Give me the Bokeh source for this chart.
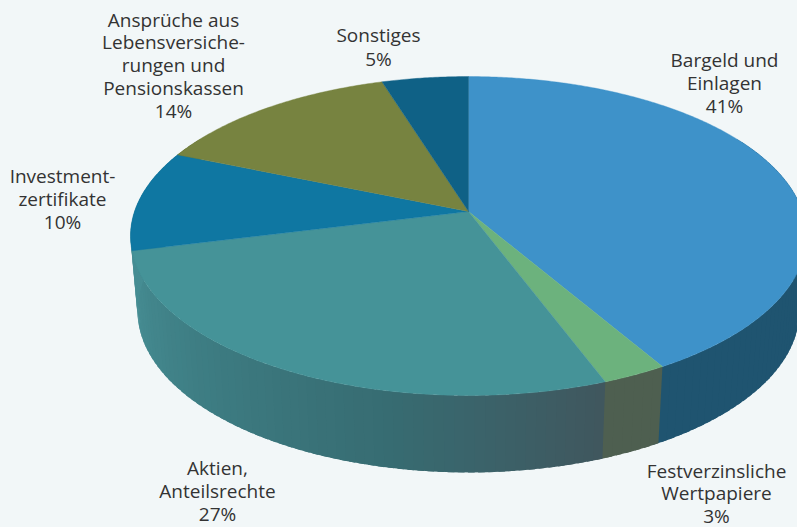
import math
from bokeh.plotting import figure
from bokeh.models import Range1d
from bokeh.core.properties import value
from bokeh.embed import file_html
from bokeh.resources import INLINE

# data
categories = ["Bargeld und Einlagen", "Festverzinsliche Wertpapiere", "Aktien, Anteilsrechte",
              "Investmentzertifikate", "Ansprüche aus Lebensversicherungen und Pensionskassen", "Sonstiges"]
shares = [41.6, 2.7, 26.8, 10.2, 13.9, 4.8]
top_colors = ["#3e92c9", "#6cb27d", "#459398", "#0f77a2", "#778340", "#0f6186"]
side_stops = [["#1f5470", "#1f5470"], ["#4e5f50", "#4e5f50"],
              ["#40565e", "#376c72", "#3d7c82", "#468d93"],
              ["#468d93", "#468d93"], ["#5a6330", "#5a6330"], ["#0c4a66", "#0c4a66"]]
label_lines = [["Bargeld und", "Einlagen", "41%"],
               ["Festverzinsliche", "Wertpapiere", "3%"],
               ["Aktien,", "Anteilsrechte", "27%"],
               ["Investment-", "zertifikate", "10%"],
               ["Ansprüche aus", "Lebensversiche-", "rungen und", "Pensionskassen", "14%"],
               ["Sonstiges", "5%"]]

# layout
label_x = [724, 716, 217, 62, 173, 378]
label_y = [59, 470, 467, 175, 19, 34]
line_step = [23, 22.5, 23, 23, 22.8, 24]
CX, AY = 468, 211
K, A, B = 0.1536, 155.7, 334
BOT_SX, BOT_SY, EY, BOT_EY = 331 / 338, 162 / 160, 235, 310
BG = "#f2f7f8"


def top_pt(deg):
    t = math.radians(deg)
    x, y = math.sin(t), math.cos(t)
    d = 1 + K * y
    return CX + B * x / d, AY - A * y / d


def bot_pt(deg):
    X, Y = top_pt(deg)
    return CX + BOT_SX * (X - CX), BOT_EY + BOT_SY * (Y - EY)


def lerp_color(stops, f):
    n = len(stops) - 1
    f = min(max(f, 0), 1)
    i = min(int(f * n), n - 1)
    g = f * n - i
    a = [int(stops[i][j:j + 2], 16) for j in (1, 3, 5)]
    b = [int(stops[i + 1][j:j + 2], 16) for j in (1, 3, 5)]
    return "#%02x%02x%02x" % tuple(round(u + (v - u) * g) for u, v in zip(a, b))


p = figure(width=797, height=527, output_backend="svg", toolbar_location=None,
           x_range=Range1d(0, 797), y_range=Range1d(527, 0), min_border=0,
           background_fill_color=BG, border_fill_color=BG, outline_line_color=None)
p.axis.visible = False
p.grid.visible = False

total = sum(shares)
start = 0.0
quads = []
for sh, stops in zip(shares, side_stops):
    end = start + 360 * sh / total
    a0, a1 = max(start, 60), min(end, 300)
    if a1 > a0:
        n = max(1, int((a1 - a0) / 1.5))
        for i in range(n):
            u0, u1 = a0 + (a1 - a0) * i / n, a0 + (a1 - a0) * (i + 1) / n
            quads.append((u0, u1, lerp_color(stops, ((u0 + u1) / 2 - start) / (end - start))))
    start = end

# sides, drawn with overlap so that no seams show
for i, (u0, u1, c) in enumerate(quads):
    over = u1 + 1.0 if i < len(quads) - 1 else u1
    t0, t1, b0, b1 = top_pt(u0), top_pt(over), bot_pt(u0), bot_pt(over)
    p.patch([t0[0], t1[0], b1[0], b0[0]], [t0[1], t1[1], b1[1], b0[1]],
            fill_color=c, line_color=None)

# top
start = 0.0
for sh, col in zip(shares, top_colors):
    end = start + 360 * sh / total
    n = max(2, int((end - start) / 0.5))
    pts = [top_pt(start + (end - start) * i / n) for i in range(n + 1)]
    p.patch([CX] + [q[0] for q in pts], [AY] + [q[1] for q in pts],
            fill_color=col, line_color=col, line_width=0.4)
    start = end

# labels
for lines, x, y, st in zip(label_lines, label_x, label_y, line_step):
    p.text([x] * len(lines), [y + i * st for i in range(len(lines))], text=lines,
           text_font=value("Open Sans"), text_font_size="19px", text_color="#333333",
           text_align="center", text_baseline="middle")

html = file_html(p, INLINE)
html = html.replace("<head>", "<head><style>html,body{background:%s}</style>" % BG, 1)
open("out.html", "w").write(html)
